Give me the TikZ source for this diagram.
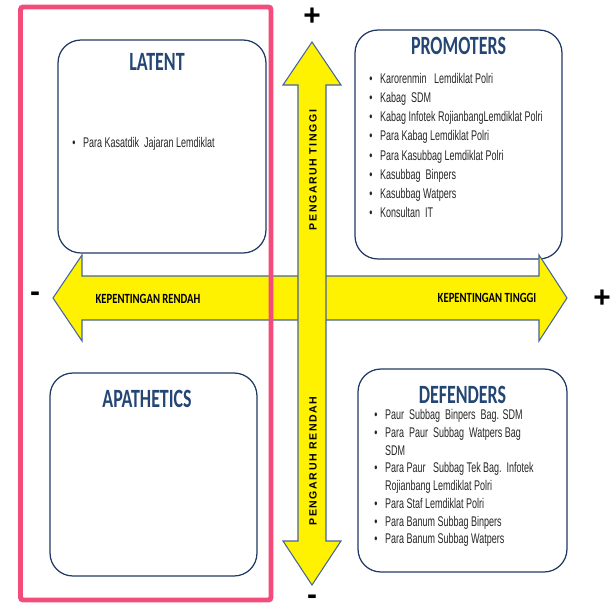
\documentclass[tikz,border=0pt]{standalone}
\usepackage{fontspec}
\setmainfont{Liberation Sans}[FakeStretch=0.64]
\newfontfamily\titlefont{Carlito}[FakeStretch=0.68]
\newfontfamily\axisfont{Carlito}[FakeStretch=0.76]
\newfontfamily\spacedfont{Liberation Sans}[LetterSpace=15]
\newfontfamily\signfont{Liberation Sans}
\usepackage{tikz}
\usetikzlibrary{positioning}

\definecolor{framepink}{RGB}{244,76,122}
\definecolor{boxnavy}{RGB}{31,56,100}
\definecolor{titleblue}{RGB}{36,70,115}
\definecolor{arrowedge}{RGB}{70,100,160}

\newcommand\itm{\makebox[6.2pt][l]{\textbullet}}
\newcommand\itmskip{\hspace*{6.2pt}}

\begin{document}
\begin{tikzpicture}[
    x=0.02cm, y=-0.02cm,
    quad/.style={rectangle, rounded corners=13pt, draw=boxnavy, line width=0.7pt,
                 fill=white, inner sep=0pt, outer sep=0pt},
    quadtitle/.style={inner sep=0pt, text=titleblue,
                      font=\titlefont\bfseries\fontsize{15}{15}\selectfont},
    items/.style={anchor=north west, inner sep=0pt, align=left, text=black!85},
    bigarrow/.style={draw=arrowedge, fill=yellow, line width=0.6pt},
    axislabel/.style={inner sep=0pt, font=\axisfont\bfseries\fontsize{8}{8}\selectfont},
    infllabel/.style={inner sep=0pt, rotate=90,
                      font=\spacedfont\bfseries\fontsize{6}{6}\selectfont},
    sign/.style={inner sep=0pt, font=\signfont\bfseries\fontsize{17}{17}\selectfont}
]
\useasboundingbox (0,0) rectangle (610,609);

\node[quad, minimum width=4.16cm, minimum height=4.26cm] (latent) at (162,146.5) {};
\node[quad, minimum width=4.14cm, minimum height=4.06cm] (apathetics) at (153.5,474.5) {};
\node[quad, minimum width=4.14cm, minimum height=4.58cm] (promoters) at (458.5,144.5) {};
\node[quad, minimum width=4.18cm, minimum height=4.06cm] (defenders) at (462.5,470.5) {};

\draw[bigarrow] (53,298) -- (82,255) -- (82,276) -- (539,276) -- (539,255) -- (567,298)
    -- (539,341) -- (539,320) -- (82,320) -- (82,341) -- cycle;
\draw[bigarrow] (312,42) -- (341,85) -- (326,85) -- (326,541) -- (341,541) -- (312,585)
    -- (283,541) -- (298,541) -- (298,85) -- (283,85) -- cycle;

\draw[framepink, line width=2.8pt, rounded corners=1.5pt] (20.5,7) rectangle (271,600);

\node[quadtitle, below=0.27cm of latent.north, xshift=-0.1cm] (latenttitle) {LATENT};
\node[quadtitle, below=0.33cm of apathetics.north, xshift=-0.13cm] (apathtitle) {APATHETICS};
\node[quadtitle, below=0.13cm of promoters.north] (promtitle) {PROMOTERS};
\node[quadtitle, below=0.33cm of defenders.north] (deftitle) {DEFENDERS};

\node[items, font=\fontsize{8}{11}\selectfont] (latentlist) at (72,137)
    {\itm Para Kasatdik\ \ Jajaran Lemdiklat};
\node[items, font=\fontsize{8}{10.9}\selectfont] (promlist) at (369,73) {%
    \itm Karorenmin\ \ \ Lemdiklat Polri\\
    \itm Kabag\ \ SDM\\
    \itm Kabag Infotek RojianbangLemdiklat Polri\\
    \itm Para Kabag Lemdiklat Polri\\
    \itm Para Kasubbag Lemdiklat Polri\\
    \itm Kasubbag\ \ Binpers\\
    \itm Kasubbag Watpers\\
    \itm Konsultan\ \ IT};
\node[items, font=\fontsize{8}{10.1}\selectfont] (deflist) at (374,409) {%
    \itm Paur\ \ Subbag\ \ Binpers\ \ Bag. SDM\\
    \itm Para\ \ Paur\ \ Subbag\ \ Watpers Bag\\
    \itmskip SDM\\
    \itm Para Paur\ \ \ Subbag Tek Bag.\ \ Infotek\\
    \itmskip Rojianbang Lemdiklat Polri\\
    \itm Para Staf Lemdiklat Polri\\
    \itm Para Banum Subbag Binpers\\
    \itm Para Banum Subbag Watpers};

\node[axislabel] (lowinterest) at (148,299) {KEPENTINGAN RENDAH};
\node[axislabel] (highinterest) at (487,298) {KEPENTINGAN TINGGI};
\node[infllabel] (highpower) at (313,170) {PENGARUH TINGGI};
\node[infllabel] (lowpower) at (313,461) {PENGARUH RENDAH};

\node[sign] (plustop) at (312,17) {+};
\node[sign] (minusleft) at (35,297) {-};
\node[sign] (plusright) at (602,299) {+};
\node[sign] (minusbottom) at (312,600) {-};
\end{tikzpicture}
\end{document}
